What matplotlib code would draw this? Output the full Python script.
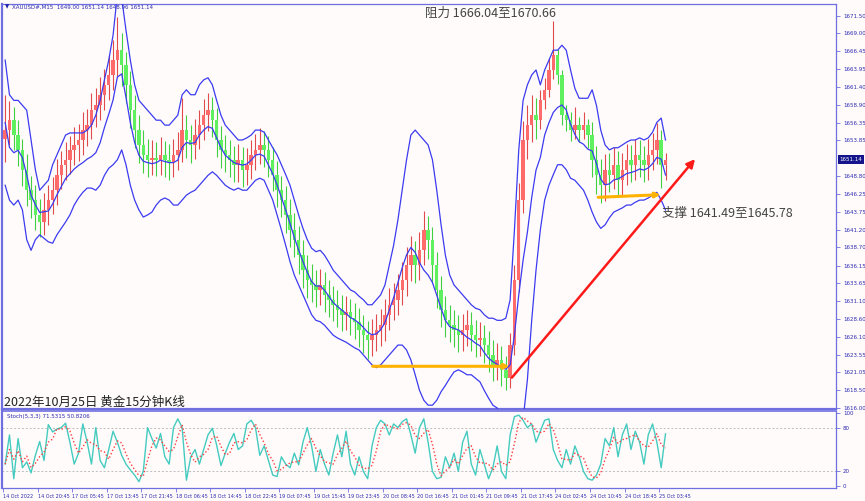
import numpy as np
import pandas as pd
import matplotlib
matplotlib.use("Agg")
import matplotlib.pyplot as plt

W, H = 865, 501

# ---------------- data (hourly-resolution reading of the M15 chart) ----------------
closes = [1655.3, 1656.7, 1654.6, 1652.5, 1649.7, 1646.8, 1645.4, 1643.3, 1642.3, 1644.0,
          1645.4, 1646.8, 1649.0, 1650.4, 1651.1, 1652.5, 1653.2, 1653.9, 1655.3, 1656.0,
          1658.1, 1658.9, 1660.3, 1661.7, 1663.1, 1665.2, 1666.6, 1664.5, 1661.7, 1658.1,
          1655.3, 1653.2, 1651.8, 1651.1, 1651.4, 1651.1, 1651.8, 1651.1, 1650.8, 1651.8,
          1652.5, 1655.3, 1653.9, 1653.2, 1654.6, 1656.0, 1657.4, 1658.1, 1656.7, 1653.9,
          1652.5, 1651.8, 1651.1, 1650.4, 1651.1, 1649.7, 1650.4, 1651.8, 1652.5, 1653.2,
          1652.5, 1651.1, 1649.0, 1646.8, 1645.4, 1643.3, 1641.2, 1639.8, 1637.6, 1635.5,
          1634.1, 1633.4, 1632.7, 1633.4, 1632.0, 1631.3, 1630.6, 1629.9, 1629.2, 1629.6,
          1628.7, 1628.2, 1627.0, 1626.3, 1625.6, 1626.3, 1627.0, 1627.7, 1629.2, 1630.6,
          1631.3, 1632.7, 1634.1, 1636.2, 1637.6, 1636.2, 1638.3, 1641.2, 1639.8, 1636.2,
          1632.7, 1629.9, 1628.4, 1627.7, 1627.0, 1626.3, 1627.0, 1627.7, 1626.3, 1625.6,
          1625.9, 1624.9, 1623.5, 1622.1, 1622.8, 1621.4, 1620.2, 1624.9, 1634.1, 1645.4,
          1653.9, 1656.0, 1657.4, 1656.7, 1659.6, 1661.0, 1663.8, 1665.9, 1663.1, 1657.4,
          1656.7, 1655.3, 1656.0, 1655.3, 1656.0, 1654.6, 1651.1, 1649.0, 1647.6, 1649.7,
          1649.0, 1650.4, 1648.3, 1649.7, 1651.1, 1650.4, 1651.8, 1651.1, 1650.4, 1651.8,
          1652.5, 1653.9, 1650.4, 1651.14]
highs = [1660.3, 1659.4, 1658.6, 1656.7, 1654.1, 1651.9, 1648.8, 1647.5, 1645.6, 1646.4,
         1647.5, 1648.6, 1651.2, 1652.4, 1653.6, 1654.5, 1655.8, 1656.1, 1657.9, 1658.3,
         1660.5, 1661.3, 1662.8, 1664.0, 1665.9, 1668.0, 1671.3, 1669.0, 1666.3, 1663.6,
         1660.2, 1657.4, 1655.3, 1654.1, 1653.9, 1653.6, 1654.3, 1653.8, 1653.4, 1654.0,
         1655.1, 1659.9, 1657.5, 1656.0, 1656.9, 1658.2, 1659.7, 1660.5, 1660.0, 1658.4,
         1655.9, 1654.6, 1653.9, 1653.0, 1653.4, 1652.9, 1652.7, 1653.9, 1654.8, 1655.6,
         1655.2, 1654.4, 1652.9, 1650.9, 1648.8, 1647.4, 1645.5, 1643.6, 1641.8, 1639.7,
         1637.6, 1636.3, 1635.5, 1635.6, 1635.2, 1634.1, 1633.2, 1632.7, 1632.0, 1631.8,
         1631.4, 1630.8, 1630.1, 1629.2, 1628.3, 1628.6, 1629.3, 1630.0, 1631.4, 1632.9,
         1633.7, 1635.0, 1636.6, 1638.8, 1640.3, 1639.6, 1640.9, 1643.8, 1643.2, 1641.6,
         1638.1, 1634.6, 1631.9, 1630.5, 1629.8, 1629.2, 1629.3, 1629.9, 1629.6, 1628.4,
         1628.2, 1627.8, 1626.9, 1625.6, 1625.2, 1624.7, 1623.4, 1626.6, 1636.2, 1647.8,
         1656.6, 1658.9, 1660.2, 1659.8, 1661.0, 1662.6, 1665.5, 1670.66, 1666.8, 1663.8,
         1658.9, 1657.9, 1658.6, 1657.2, 1657.8, 1656.9, 1656.4, 1653.1, 1651.2, 1651.9,
         1652.0, 1652.9, 1652.3, 1652.0, 1653.4, 1653.2, 1654.0, 1653.9, 1653.1, 1654.0,
         1654.9, 1656.3, 1655.3, 1652.0]
lows = [1650.8, 1653.2, 1652.5, 1650.2, 1647.4, 1644.6, 1642.9, 1641.2, 1640.2, 1640.5,
        1641.9, 1643.4, 1644.7, 1647.0, 1648.3, 1649.1, 1650.3, 1650.9, 1651.8, 1653.0,
        1654.0, 1655.7, 1656.7, 1658.1, 1659.6, 1660.9, 1662.8, 1661.6, 1659.2, 1655.6,
        1652.8, 1650.7, 1649.3, 1648.7, 1648.9, 1648.8, 1649.0, 1648.6, 1648.3, 1648.6,
        1649.7, 1650.8, 1651.4, 1650.7, 1651.2, 1652.6, 1653.9, 1655.2, 1654.3, 1651.5,
        1650.0, 1649.4, 1648.6, 1647.9, 1648.0, 1647.2, 1647.5, 1648.4, 1649.7, 1650.5,
        1650.1, 1648.7, 1646.7, 1644.4, 1643.0, 1640.8, 1638.7, 1637.3, 1635.0, 1632.9,
        1631.6, 1631.0, 1630.3, 1630.5, 1629.6, 1628.9, 1628.3, 1627.5, 1626.9, 1627.0,
        1626.3, 1625.7, 1624.6, 1623.8, 1622.9, 1623.3, 1624.1, 1624.7, 1625.5, 1627.1,
        1628.5, 1629.2, 1630.6, 1631.9, 1633.9, 1633.7, 1634.1, 1636.2, 1637.1, 1633.7,
        1630.2, 1627.5, 1626.0, 1625.3, 1624.6, 1623.9, 1624.1, 1624.8, 1624.0, 1623.2,
        1623.3, 1622.3, 1621.1, 1619.8, 1620.0, 1619.1, 1618.5, 1618.8, 1623.5, 1632.4,
        1643.6, 1651.2, 1653.6, 1654.0, 1655.4, 1658.3, 1660.0, 1662.5, 1661.8, 1656.0,
        1655.2, 1653.8, 1654.0, 1653.6, 1654.1, 1652.8, 1648.6, 1646.3, 1645.0, 1645.3,
        1646.6, 1646.9, 1645.8, 1646.1, 1647.6, 1648.0, 1648.3, 1648.7, 1648.0, 1648.3,
        1649.7, 1650.5, 1647.1, 1648.2]
first_open = 1654.0
bb_upper = [1665.2, 1660.3, 1659.5, 1659.5, 1658.8, 1658.1, 1653.9, 1649.7, 1646.8, 1647.5,
            1648.2, 1650.4, 1651.8, 1653.2, 1654.6, 1654.9, 1654.9, 1654.9, 1654.9, 1655.3,
            1656.0, 1657.4, 1659.5, 1662.4, 1665.2, 1668.7, 1674.5, 1674.0, 1669.4, 1665.2,
            1661.7, 1659.5, 1658.8, 1658.1, 1657.4, 1656.7, 1656.7, 1656.0, 1656.0, 1656.7,
            1657.4, 1660.3, 1661.0, 1660.3, 1660.3, 1661.7, 1662.4, 1662.7, 1661.7, 1659.5,
            1657.4, 1656.0, 1655.3, 1654.6, 1653.9, 1653.9, 1654.2, 1654.6, 1655.3, 1655.3,
            1655.0, 1653.9, 1652.8, 1651.8, 1650.4, 1649.0, 1647.5, 1645.4, 1643.3, 1641.4,
            1639.8, 1638.6, 1638.1, 1638.3, 1637.6, 1636.6, 1635.5, 1634.8, 1634.1, 1633.4,
            1632.7, 1632.4, 1631.8, 1631.3, 1630.6, 1630.6, 1631.3, 1632.0, 1633.4, 1636.2,
            1639.0, 1642.6, 1646.8, 1651.1, 1654.6, 1655.3, 1654.6, 1653.9, 1653.2, 1651.1,
            1646.8, 1641.9, 1637.6, 1634.8, 1633.4, 1632.7, 1632.0, 1631.3, 1630.6, 1630.1,
            1629.9, 1629.2, 1628.7, 1628.7, 1628.4, 1628.4, 1628.7, 1631.3, 1641.2, 1652.5,
            1659.5, 1661.7, 1663.1, 1663.8, 1661.7, 1663.8, 1665.2, 1666.6, 1666.6, 1667.3,
            1666.6, 1663.8, 1661.2, 1659.8, 1659.8, 1659.8, 1661.0, 1658.8, 1655.3, 1653.2,
            1652.5, 1652.8, 1652.8, 1653.2, 1653.6, 1653.9, 1653.9, 1654.2, 1653.9, 1654.2,
            1655.0, 1656.4, 1657.0, 1653.9]
bb_lower = [1647.5, 1645.4, 1644.7, 1645.4, 1644.0, 1639.8, 1638.3, 1639.8, 1640.5, 1640.0,
            1639.5, 1639.3, 1640.5, 1641.4, 1642.3, 1643.3, 1644.7, 1645.7, 1646.5, 1647.1,
            1647.1, 1646.8, 1647.5, 1648.9, 1649.9, 1650.4, 1651.1, 1652.5, 1650.4, 1647.5,
            1645.4, 1644.0, 1643.0, 1643.3, 1643.7, 1644.7, 1645.4, 1645.7, 1645.4, 1644.7,
            1644.7, 1645.4, 1646.1, 1646.5, 1646.8, 1647.5, 1648.2, 1648.9, 1649.4, 1648.9,
            1648.2, 1647.5, 1647.1, 1646.8, 1647.1, 1646.8, 1646.8, 1647.5, 1648.2, 1648.5,
            1648.2, 1646.8, 1645.4, 1643.3, 1641.2, 1639.0, 1636.7, 1634.8, 1633.4, 1632.0,
            1630.6, 1629.2, 1628.4, 1628.2, 1627.7, 1627.0, 1626.3, 1625.9, 1625.6, 1625.3,
            1624.9, 1624.5, 1624.2, 1623.5, 1622.8, 1622.1, 1621.7, 1622.1, 1622.8, 1623.5,
            1624.2, 1624.9, 1624.9, 1624.2, 1622.8, 1620.7, 1618.5, 1617.1, 1616.4, 1616.4,
            1617.1, 1618.3, 1619.2, 1620.2, 1621.1, 1621.4, 1621.1, 1620.7, 1620.7, 1620.2,
            1619.7, 1618.5, 1617.4, 1616.4, 1616.0, 1615.0, 1614.3, 1612.9, 1611.5, 1611.5,
            1614.3, 1620.0, 1628.4, 1635.5, 1641.2, 1645.4, 1647.5, 1649.0, 1650.4, 1650.4,
            1649.7, 1648.5, 1648.2, 1647.5, 1646.8, 1645.4, 1643.7, 1642.3, 1641.4, 1641.9,
            1642.9, 1643.7, 1644.0, 1644.3, 1644.7, 1644.7, 1645.1, 1645.4, 1645.4, 1645.7,
            1646.1, 1646.5, 1645.4, 1644.0]
stoch_k = [30, 70, 10, 65, 25, 33, 18, 42, 61, 35,
           84, 74, 78, 80, 86, 60, 30, 45, 85, 60,
           30, 80, 35, 25, 50, 75, 60, 42, 30, 22,
           15, 6, 20, 80, 65, 52, 72, 40, 30, 80,
           92, 80, 8, 40, 50, 30, 50, 70, 79, 56,
           28, 45, 60, 72, 50, 55, 85, 90, 80, 42,
           55, 35, 15, 13, 40, 30, 25, 45, 29, 60,
           80, 55, 20, 50, 30, 15, 45, 70, 40, 75,
           30, 15, 40, 20, 10, 55, 80, 90, 85, 70,
           85, 80, 88, 92, 70, 45, 80, 92, 60, 20,
           10, 12, 40, 25, 45, 20, 60, 75, 30, 15,
           50, 30, 10, 25, 55, 20, 10, 70, 95, 97,
           90, 80, 85, 60, 75, 90, 92, 50, 35, 25,
           50, 30, 55, 40, 20, 10, 8, 15, 30, 65,
           55, 80, 40, 70, 85, 50, 75, 60, 30, 70,
           85, 60, 25, 71.5315]

date_labels = ["14 Oct 2022", "14 Oct 20:45", "17 Oct 05:45", "17 Oct 13:45", "17 Oct 21:45",
               "18 Oct 06:45", "18 Oct 14:45", "18 Oct 22:45", "19 Oct 07:45", "19 Oct 15:45",
               "19 Oct 23:45", "20 Oct 08:45", "20 Oct 16:45", "21 Oct 01:45", "21 Oct 09:45",
               "21 Oct 17:45", "24 Oct 02:45", "24 Oct 10:45", "24 Oct 18:45", "25 Oct 03:45"]
price_ticks = [1671.50, 1669.00, 1666.45, 1663.95, 1661.40, 1658.90, 1656.35, 1653.85,
               1648.80, 1646.25, 1643.75, 1641.20, 1638.70, 1636.15, 1633.65, 1631.10,
               1628.60, 1626.10, 1623.55, 1621.05, 1618.50, 1616.00]
stoch_ticks = [0, 20, 80, 100]
last_price = 1651.14
prev_support = 1621.9
support_top = 1645.78
trend_start = (470, 1620.0)
trend_end = (643, 1651.5)

BARS_PER_CANDLE = 4
BARS_PER_LABEL = 32
PX_PER_BAR = 1.079

# ---------------- derived series ----------------
n = len(closes)
kx = np.arange(n) * BARS_PER_CANDLE + BARS_PER_CANDLE / 2
c = np.array(closes)
o = np.array([first_open] + closes[:-1])
hi = np.array(highs)
lo = np.array(lows)
upper = np.array(bb_upper)
lower = np.array(bb_lower)
mid = (upper + lower) / 2
kser = pd.Series(stoch_k, dtype=float)
dser = kser.rolling(3, min_periods=1).mean()

# ---------------- figure ----------------
BG = "#fffbfb"
FRAME = "#6f6fe0"
TXT = "#2b2bb0"
fig = plt.figure(figsize=(W / 100, H / 100), dpi=100, facecolor=BG)
small = ["Liberation Sans Narrow", "DejaVu Sans"]
cjk = ["Noto Sans CJK SC", "DejaVu Sans"]


def px_axes(x0, y0, x1, y1):
    return fig.add_axes([x0 / W, 1 - y1 / H, (x1 - x0) / W, (y1 - y0) / H])


x_lo = (2 - 3) / PX_PER_BAR
x_hi = (836 - 3) / PX_PER_BAR

ax = px_axes(2, 4, 836, 409)
ax.set_facecolor(BG)
ax.set_xlim(x_lo, x_hi)
ax.set_ylim(1615.86, 1673.13)

up = c >= o
col = np.where(up, "#ff6b6b", "#5ff05f")
wcol = np.where(up, "#e04a4a", "#3fcf3f")
ax.vlines(kx, lo, hi, colors=wcol, linewidth=0.8, zorder=2)
ax.bar(kx, np.maximum(np.abs(c - o), 0.12), bottom=np.minimum(o, c), width=3.2,
       color=col, linewidth=0, zorder=3)

band_col = "#3b3bf0"
for ser in (upper, mid, lower):
    ax.plot(kx, ser, color=band_col, linewidth=0.9, zorder=4)

# annotations
ax.annotate("", xy=(472, prev_support), xytext=(340, prev_support),
            arrowprops=dict(arrowstyle="-|>", color="#ffb300", lw=2.2, mutation_scale=7), zorder=6)
ax.annotate("", xy=(612, support_top + 0.4), xytext=(549, support_top),
            arrowprops=dict(arrowstyle="-|>", color="#ffb300", lw=2.2, mutation_scale=7), zorder=6)
ax.annotate("", xy=trend_end, xytext=trend_start,
            arrowprops=dict(arrowstyle="-|>", color="#ff1a1a", lw=1.8, mutation_scale=12), zorder=7)

ax.yaxis.tick_right()
ax.set_yticks(price_ticks)
ax.set_yticklabels([f"{v:.2f}" for v in price_ticks])
ax.tick_params(axis="y", length=3, width=0.6, color=FRAME, pad=2, labelsize=4.0, labelcolor=TXT)
for t in ax.get_yticklabels():
    t.set_family(small)
ax.set_xticks([])
for sp in ax.spines.values():
    sp.set_color(FRAME)
    sp.set_linewidth(0.9)
ax.spines["left"].set_linewidth(1.6)
ax.spines["bottom"].set_linewidth(1.6)

# current price box
ax.text(1.004, last_price, f"{last_price:.2f}", transform=ax.get_yaxis_transform(),
        ha="left", va="center", fontsize=4.0, color="white", family=small,
        bbox=dict(boxstyle="square,pad=0.3", fc="#14148c", ec="none"), zorder=10)

# header & labels
fig.text(5 / W, 1 - 7 / H, "▼", fontsize=4, color="#2222aa", ha="left", va="center")
fig.text(12 / W, 1 - 7 / H, "XAUUSD#,M15  1649.00 1651.14 1648.96 1651.14", fontsize=4.0,
         color=TXT, family=small, ha="left", va="center")
fig.text(425 / W, 1 - 13 / H, "阻力 1666.04至1670.66", fontsize=9, color="#444444",
         family=cjk, ha="left", va="center")
fig.text(662 / W, 1 - 213 / H, "支撑 1641.49至1645.78", fontsize=9, color="#444444",
         family=cjk, ha="left", va="center")
fig.text(4 / W, 1 - 402 / H, "2022年10月25日 黄金15分钟K线", fontsize=9, color="#222222",
         family=cjk, ha="left", va="center")

# ---------------- stochastic panel ----------------
ax2 = px_axes(2, 411, 836, 488)
ax2.set_facecolor(BG)
ax2.set_xlim(x_lo, x_hi)
ax2.set_ylim(-2.7, 102.7)
ax2.axhline(80, color="#bdbdbd", linestyle=(0, (2, 2)), linewidth=0.7)
ax2.axhline(20, color="#bdbdbd", linestyle=(0, (2, 2)), linewidth=0.7)
ax2.plot(kx, kser.values, color="#44cbbf", linewidth=1.0, zorder=3)
ax2.plot(kx, dser.values, color="#ff3d3d", linewidth=1.0, linestyle=(0, (1, 1.6)), zorder=4)
ax2.yaxis.tick_right()
ax2.set_yticks(stoch_ticks)
ax2.set_yticklabels([str(v) for v in stoch_ticks])
ax2.tick_params(axis="y", length=3, width=0.6, color=FRAME, pad=2, labelsize=4.0, labelcolor=TXT)
ax2.set_xticks(np.arange(len(date_labels)) * BARS_PER_LABEL)
ax2.set_xticklabels(date_labels)
ax2.tick_params(axis="x", length=3, width=0.6, color=FRAME, pad=1.5, labelsize=3.5, labelcolor=TXT)
for t in ax2.get_xticklabels() + ax2.get_yticklabels():
    t.set_family(small)
for t in ax2.get_xticklabels():
    t.set_ha("left")
for sp in ax2.spines.values():
    sp.set_color(FRAME)
    sp.set_linewidth(0.9)
ax2.spines["left"].set_linewidth(1.6)
ax2.spines["top"].set_linewidth(1.2)
ax2.text(5 / 834, 0.93, f"Stoch(5,3,3) {stoch_k[-1]:.4f} 50.8206", transform=ax2.transAxes,
         fontsize=4.0, color=TXT, family=small, ha="left", va="center")

fig.savefig("out.png", dpi=100, facecolor=BG)
